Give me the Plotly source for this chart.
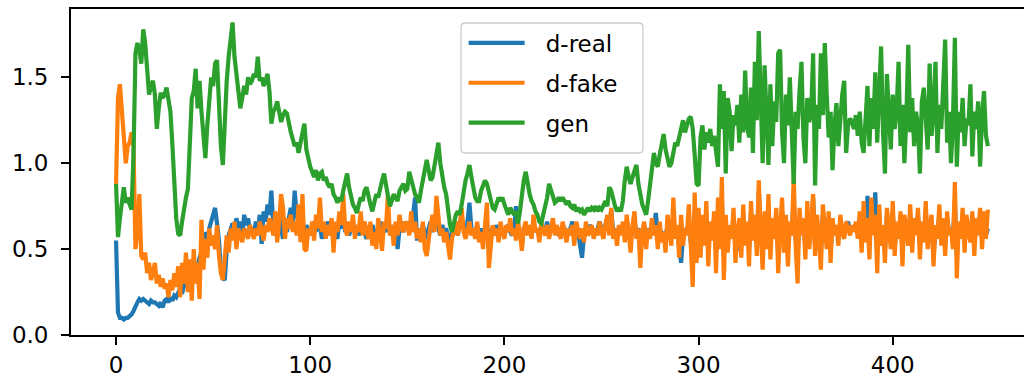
import plotly.graph_objects as go

# Discriminator / generator losses per epoch
d_real = [
    0.55, 0.13, 0.10, 0.10, 0.09, 0.10, 0.10, 0.11, 0.12, 0.14,
    0.17, 0.19, 0.21, 0.20, 0.21, 0.20, 0.19, 0.18, 0.20, 0.19,
    0.19, 0.18, 0.17, 0.19, 0.16, 0.20, 0.21, 0.19, 0.22, 0.20,
    0.23, 0.22, 0.25, 0.27, 0.24, 0.29, 0.31, 0.28, 0.33, 0.35,
    0.38, 0.36, 0.42, 0.45, 0.48, 0.52, 0.60, 0.55, 0.62, 0.66,
    0.70, 0.74, 0.65, 0.55, 0.38, 0.33, 0.32, 0.50, 0.58, 0.62,
    0.65, 0.60, 0.68, 0.62, 0.66, 0.58, 0.70, 0.64, 0.68, 0.60,
    0.62, 0.58, 0.66, 0.60, 0.70, 0.53, 0.72, 0.66, 0.76, 0.70,
    0.84, 0.62, 0.58, 0.65, 0.70, 0.62, 0.56, 0.64, 0.60, 0.68,
    0.74, 0.66, 0.84, 0.70, 0.66, 0.62, 0.66, 0.58, 0.64, 0.60,
    0.62, 0.58, 0.66, 0.60, 0.68, 0.64, 0.56, 0.62, 0.60, 0.66,
    0.62, 0.58, 0.64, 0.60, 0.56, 0.66, 0.62, 0.70, 0.60, 0.64,
    0.58, 0.62, 0.66, 0.60, 0.64, 0.58, 0.62, 0.66, 0.60, 0.56,
    0.62, 0.58, 0.64, 0.60, 0.56, 0.62, 0.66, 0.58, 0.62, 0.60,
    0.66, 0.62, 0.58, 0.64, 0.60, 0.50, 0.62, 0.66, 0.60, 0.64,
    0.62, 0.66, 0.60, 0.70, 0.80, 0.55, 0.62, 0.58, 0.64, 0.60,
    0.56, 0.62, 0.66, 0.60, 0.64, 0.68, 0.62, 0.58, 0.64, 0.60,
    0.62, 0.56, 0.52, 0.60, 0.64, 0.62, 0.58, 0.66, 0.68, 0.62,
    0.60, 0.66, 0.77, 0.62, 0.58, 0.60, 0.64, 0.56, 0.62, 0.58,
    0.60, 0.66, 0.50, 0.60, 0.62, 0.58, 0.64, 0.60, 0.62, 0.58,
    0.60, 0.62, 0.64, 0.60, 0.58, 0.62, 0.75, 0.62, 0.58, 0.56,
    0.60, 0.64, 0.60, 0.62, 0.58, 0.64, 0.62, 0.60, 0.58, 0.64,
    0.62, 0.60, 0.66, 0.58, 0.62, 0.64, 0.60, 0.62, 0.58, 0.60,
    0.64, 0.62, 0.58, 0.60, 0.62, 0.66, 0.58, 0.62, 0.60, 0.52,
    0.45, 0.58, 0.62, 0.60, 0.64, 0.62, 0.60, 0.58, 0.62, 0.66,
    0.62, 0.60, 0.64, 0.68, 0.62, 0.73, 0.60, 0.62, 0.58, 0.62,
    0.60, 0.64, 0.58, 0.66, 0.62, 0.56, 0.62, 0.66, 0.60, 0.62,
    0.56, 0.60, 0.64, 0.58, 0.62, 0.60, 0.64, 0.62, 0.71, 0.58,
    0.62, 0.58, 0.60, 0.56, 0.64, 0.60, 0.56, 0.66, 0.60, 0.62,
    0.52, 0.42, 0.58, 0.62, 0.60, 0.66, 0.54, 0.50, 0.70, 0.56,
    0.66, 0.52, 0.64, 0.56, 0.70, 0.50, 0.62, 0.58, 0.68, 0.48,
    0.70, 0.56, 0.76, 0.46, 0.66, 0.54, 0.62, 0.58, 0.68, 0.52,
    0.60, 0.49, 0.54, 0.70, 0.56, 0.64, 0.50, 0.72, 0.58, 0.66,
    0.54, 0.84, 0.60, 0.50, 0.68, 0.56, 0.74, 0.52, 0.64, 0.58,
    0.68, 0.48, 0.62, 0.72, 0.54, 0.66, 0.50, 0.64, 0.60, 0.78,
    0.56, 0.46, 0.68, 0.60, 0.64, 0.52, 0.70, 0.56, 0.62, 0.80,
    0.52, 0.66, 0.58, 0.48, 0.70, 0.60, 0.56, 0.68, 0.50, 0.64,
    0.60, 0.62, 0.56, 0.66, 0.62, 0.58, 0.64, 0.66, 0.60, 0.62,
    0.62, 0.64, 0.58, 0.68, 0.54, 0.72, 0.58, 0.81, 0.52, 0.74,
    0.60, 0.83, 0.48, 0.70, 0.56, 0.62, 0.50, 0.70, 0.60, 0.56,
    0.72, 0.52, 0.64, 0.58, 0.68, 0.50, 0.66, 0.62, 0.56, 0.70,
    0.54, 0.66, 0.60, 0.70, 0.52, 0.64, 0.58, 0.72, 0.54, 0.60,
    0.66, 0.45, 0.62, 0.58, 0.70, 0.56, 0.66, 0.52, 0.68, 0.60,
    0.62, 0.56, 0.78, 0.46, 0.64, 0.58, 0.70, 0.54, 0.66, 0.62,
    0.58, 0.68, 0.52, 0.66, 0.60, 0.70, 0.56, 0.68, 0.58, 0.62,
]

d_fake = [
    0.88, 1.38, 1.46, 1.32, 1.20, 1.00, 1.10, 1.12, 1.18, 1.10,
    0.50, 0.60, 0.82, 0.46, 0.44, 0.48, 0.36, 0.42, 0.32, 0.38,
    0.42, 0.30, 0.35, 0.28, 0.33, 0.27, 0.30, 0.22, 0.32, 0.26,
    0.36, 0.28, 0.40, 0.22, 0.42, 0.30, 0.48, 0.25, 0.44, 0.20,
    0.50, 0.30, 0.42, 0.21, 0.67, 0.38, 0.56, 0.45, 0.62, 0.52,
    0.58, 0.50, 0.64, 0.46, 0.36, 0.32, 0.45, 0.58, 0.48, 0.62,
    0.55, 0.66, 0.50, 0.62, 0.58, 0.54, 0.62, 0.60, 0.56, 0.64,
    0.60, 0.56, 0.62, 0.58, 0.66, 0.60, 0.55, 0.64, 0.60, 0.68,
    0.62, 0.58, 0.72, 0.54, 0.66, 0.82, 0.74, 0.56, 0.68, 0.62,
    0.70, 0.60, 0.66, 0.58, 0.76, 0.54, 0.82, 0.50, 0.49, 0.62,
    0.58, 0.66, 0.55, 0.70, 0.62, 0.80, 0.60, 0.66, 0.56, 0.64,
    0.58, 0.68, 0.48, 0.66, 0.60, 0.72, 0.64, 0.82, 0.62, 0.58,
    0.66, 0.60, 0.70, 0.56, 0.64, 0.60, 0.72, 0.58, 0.66, 0.62,
    0.56, 0.66, 0.52, 0.60, 0.50, 0.68, 0.58, 0.49, 0.66, 0.62,
    0.82, 0.58, 0.64, 0.52, 0.66, 0.58, 0.70, 0.62, 0.60, 0.66,
    0.64, 0.58, 0.72, 0.60, 0.66, 0.56, 0.62, 0.54, 0.66, 0.50,
    0.46, 0.58, 0.64, 0.70, 0.60, 0.81, 0.66, 0.58, 0.62, 0.54,
    0.60, 0.52, 0.44, 0.56, 0.62, 0.66, 0.58, 0.64, 0.74, 0.60,
    0.56, 0.62, 0.66, 0.58, 0.62, 0.56, 0.66, 0.54, 0.60, 0.50,
    0.62, 0.77, 0.39, 0.56, 0.64, 0.58, 0.62, 0.54, 0.66, 0.60,
    0.56, 0.64, 0.60, 0.68, 0.58, 0.62, 0.55, 0.66, 0.60, 0.49,
    0.62, 0.66, 0.58, 0.64, 0.56, 0.70, 0.60, 0.62, 0.54, 0.66,
    0.60, 0.58, 0.64, 0.56, 0.62, 0.68, 0.58, 0.64, 0.60, 0.56,
    0.66, 0.60, 0.54, 0.62, 0.58, 0.64, 0.52, 0.66, 0.60, 0.56,
    0.62, 0.54, 0.66, 0.58, 0.60, 0.64, 0.56, 0.62, 0.58, 0.66,
    0.60, 0.56, 0.64, 0.70, 0.58, 0.74, 0.56, 0.62, 0.52, 0.64,
    0.58, 0.66, 0.54, 0.70, 0.60, 0.48, 0.64, 0.72, 0.56, 0.62,
    0.39, 0.60, 0.66, 0.50, 0.62, 0.56, 0.68, 0.58, 0.64, 0.50,
    0.66, 0.54, 0.60, 0.48, 0.70, 0.58, 0.52, 0.80, 0.56, 0.64,
    0.45, 0.70, 0.52, 0.62, 0.58, 0.76, 0.48, 0.28, 0.83, 0.42,
    0.74, 0.45, 0.70, 0.52, 0.78, 0.40, 0.66, 0.55, 0.72, 0.36,
    0.80, 0.50, 0.92, 0.32, 0.70, 0.48, 0.64, 0.56, 0.74, 0.42,
    0.60, 0.68, 0.45, 0.76, 0.52, 0.66, 0.40, 0.78, 0.55, 0.70,
    0.46, 0.90, 0.60, 0.38, 0.72, 0.50, 0.82, 0.44, 0.68, 0.56,
    0.74, 0.36, 0.62, 0.80, 0.48, 0.70, 0.40, 0.66, 0.58, 0.92,
    0.52, 0.30, 0.74, 0.58, 0.68, 0.44, 0.78, 0.50, 0.64, 0.82,
    0.46, 0.70, 0.56, 0.38, 0.76, 0.60, 0.50, 0.72, 0.42, 0.68,
    0.58, 0.64, 0.52, 0.70, 0.60, 0.56, 0.66, 0.62, 0.58, 0.64,
    0.60, 0.66, 0.56, 0.72, 0.48, 0.78, 0.54, 0.68, 0.44, 0.80,
    0.58, 0.70, 0.36, 0.76, 0.52, 0.64, 0.42, 0.74, 0.60, 0.50,
    0.78, 0.46, 0.66, 0.56, 0.72, 0.40, 0.70, 0.60, 0.52, 0.76,
    0.48, 0.68, 0.58, 0.74, 0.44, 0.66, 0.54, 0.78, 0.50, 0.62,
    0.70, 0.40, 0.64, 0.56, 0.76, 0.52, 0.68, 0.46, 0.72, 0.58,
    0.62, 0.50, 0.89, 0.33, 0.66, 0.56, 0.74, 0.48, 0.70, 0.60,
    0.54, 0.72, 0.46, 0.68, 0.58, 0.74, 0.50, 0.72, 0.56, 0.73,
]

gen = [
    0.88, 0.57, 0.68, 0.78, 0.86, 0.77, 0.80, 0.76, 0.73, 1.05,
    1.64, 1.70, 1.66, 1.58, 1.78, 1.70, 1.52, 1.40, 1.45, 1.48,
    1.40, 1.20, 1.32, 1.41, 1.38, 1.40, 1.44, 1.38, 1.30, 1.11,
    0.90, 0.68, 0.59, 0.58, 0.66, 0.74, 0.80, 0.85, 1.10, 1.38,
    1.42, 1.55, 1.32, 1.48, 1.30, 1.15, 1.03, 1.22, 1.40, 1.50,
    1.45, 1.58, 1.60, 1.30, 1.10, 0.99, 1.30, 1.48, 1.62, 1.70,
    1.82, 1.62, 1.50, 1.40, 1.32, 1.38, 1.45, 1.40, 1.50, 1.46,
    1.48, 1.52, 1.50, 1.62, 1.48, 1.50, 1.45, 1.48, 1.52, 1.42,
    1.23, 1.30, 1.32, 1.36, 1.30, 1.24, 1.28, 1.30, 1.29, 1.22,
    1.18, 1.14, 1.10, 1.12, 1.06, 1.12, 1.18, 1.23, 1.08, 1.02,
    0.98, 0.95, 0.92, 0.96, 0.90, 0.94, 0.95, 0.90, 0.92, 0.88,
    0.86, 0.88, 0.82, 0.80, 0.77, 0.80, 0.78, 0.84, 0.90, 0.94,
    0.86, 0.80, 0.76, 0.74, 0.71, 0.76, 0.80, 0.78, 0.84, 0.86,
    0.80, 0.76, 0.72, 0.78, 0.82, 0.80, 0.86, 0.90, 0.94, 0.88,
    0.80, 0.75, 0.78, 0.82, 0.80, 0.78, 0.84, 0.86, 0.88, 0.84,
    0.85, 0.95, 0.90, 0.86, 0.82, 0.80, 0.77, 0.84, 0.92, 0.96,
    1.02, 0.94, 0.90, 0.92, 0.98, 1.04, 1.12, 1.00, 0.92, 0.86,
    0.82, 0.70, 0.64, 0.60, 0.66, 0.70, 0.72, 0.70, 0.76, 0.84,
    0.90, 0.94, 0.99, 0.92, 0.86, 0.80, 0.78, 0.78, 0.84, 0.88,
    0.90, 0.88, 0.84, 0.78, 0.74, 0.73, 0.76, 0.80, 0.78, 0.80,
    0.76, 0.72, 0.70, 0.74, 0.72, 0.70, 0.72, 0.65, 0.72, 0.82,
    0.90, 0.95, 0.88, 0.82, 0.78, 0.76, 0.72, 0.70, 0.66, 0.65,
    0.70, 0.75, 0.80, 0.88, 0.84, 0.80, 0.77, 0.78, 0.80, 0.78,
    0.80, 0.78, 0.76, 0.78, 0.75, 0.74, 0.76, 0.72, 0.74, 0.72,
    0.73, 0.70, 0.72, 0.74, 0.72, 0.74, 0.73, 0.75, 0.72, 0.74,
    0.73, 0.76, 0.78, 0.75, 0.86, 0.84, 0.78, 0.75, 0.72, 0.74,
    0.72, 0.78, 0.90, 0.98, 0.92, 0.88, 0.92, 0.95, 0.99, 0.88,
    0.80, 0.76, 0.73, 0.70, 0.78, 0.88, 0.96, 1.06, 1.00, 0.98,
    1.05, 1.10, 1.17, 1.08, 1.02, 0.98, 1.00, 1.06, 1.12, 1.10,
    1.15, 1.20, 1.25, 1.18, 1.22, 1.26, 1.27, 1.20, 1.05, 0.88,
    0.87, 1.15, 1.22, 1.08, 1.18, 1.12, 1.20, 1.10, 1.16, 1.05,
    0.98, 1.46, 1.20, 1.42, 0.94, 1.38, 1.30, 1.07, 1.28, 1.22,
    1.34, 1.12, 1.40, 1.18, 1.54, 1.22, 1.15, 1.44, 1.06, 1.59,
    1.25, 1.77, 1.30, 1.00, 1.57, 1.20, 0.99, 1.46, 1.10, 1.36,
    1.24, 1.64, 1.66, 1.18, 1.00, 1.40, 1.22, 1.50, 1.12, 0.88,
    1.30, 1.20, 1.42, 1.59, 1.15, 1.00, 1.38, 1.24, 1.30, 1.64,
    0.87, 1.34, 1.20, 1.64, 1.28, 1.70, 1.40, 1.15, 1.30, 0.96,
    1.22, 1.35, 1.10, 1.28, 1.40, 1.48, 1.06, 1.22, 1.26, 1.24,
    1.20, 1.28, 1.16, 1.30, 1.12, 1.06, 1.32, 1.45, 1.10, 1.38,
    1.20, 1.53, 1.12, 1.36, 1.68, 1.18, 0.94, 1.52, 1.26, 1.08,
    1.40, 1.20, 1.30, 1.59, 1.10, 1.34, 1.00, 1.26, 1.69, 1.18,
    1.38, 1.10, 1.30, 1.22, 0.94, 1.36, 1.44, 1.20, 1.08, 1.58,
    1.16, 1.30, 1.59, 1.06, 1.34, 1.20, 1.44, 1.72, 1.12, 1.30,
    1.00, 1.24, 1.73, 0.98, 1.30, 1.18, 1.38, 1.10, 1.26, 1.22,
    1.46, 1.04, 1.30, 1.20, 1.36, 0.98, 1.28, 1.42, 1.16, 1.10,
]

series_names = ["d-real", "d-fake", "gen"]
series_colors = ["#1f77b4", "#ff7f0e", "#2ca02c"]
x_ticks = [0, 100, 200, 300, 400]
y_ticks = [0.0, 0.5, 1.0, 1.5]

epochs = list(range(len(d_real)))

# gap between the legend handle and its label
label_gap = "\u2002\u2009"

fig = go.Figure()
for name, values, color in zip(series_names, [d_real, d_fake, gen], series_colors):
    fig.add_trace(go.Scatter(
        x=epochs, y=values, name=label_gap + name, mode="lines",
        legendgroup=name,
        line=dict(color=color, width=4.2),
    ))

font_family = "DejaVu Sans"

# Legend frame with rounded corners, drawn above the lines
lx0, lx1, ly0, ly1 = 0.4092, 0.6002, 0.5583, 0.9571
rx, ry = 0.0045, 0.013
frame = (
    f"M {lx0 + rx},{ly1} L {lx1 - rx},{ly1} Q {lx1},{ly1} {lx1},{ly1 - ry} "
    f"L {lx1},{ly0 + ry} Q {lx1},{ly0} {lx1 - rx},{ly0} "
    f"L {lx0 + rx},{ly0} Q {lx0},{ly0} {lx0},{ly0 + ry} "
    f"L {lx0},{ly1 - ry} Q {lx0},{ly1} {lx0 + rx},{ly1} Z"
)

fig.update_layout(
    width=1024, height=379,
    margin=dict(l=71, r=0, t=9, b=44, pad=0),
    paper_bgcolor="white", plot_bgcolor="white",
    font=dict(family=font_family, size=23, color="#000000"),
    showlegend=True,
    legend=dict(
        x=0.412, y=0.962, xanchor="left", yanchor="top",
        bgcolor="rgba(0,0,0,0)", borderwidth=0,
        font=dict(family=font_family, size=23, color="#000000"),
        traceorder="grouped", tracegroupgap=7,
        itemwidth=56,
    ),
    shapes=[dict(
        type="path", xref="paper", yref="paper", path=frame,
        fillcolor="rgba(255,255,255,0.8)",
        line=dict(color="#cccccc", width=1.3), layer="above",
    )],
    xaxis=dict(
        range=[-23.2, 467.6], tickvals=x_ticks,
        showgrid=False, zeroline=False,
        showline=True, linecolor="black", linewidth=1.8, mirror=True,
        ticks="outside", ticklen=8, tickwidth=1.8, tickcolor="black",
        ticklabelstandoff=0,
        tickfont=dict(family=font_family, size=23, color="#000000"),
    ),
    yaxis=dict(
        range=[0.0, 1.898], tickvals=y_ticks, tickformat=".1f",
        showgrid=False, zeroline=False,
        showline=True, linecolor="black", linewidth=1.8, mirror=False,
        ticks="outside", ticklen=8, tickwidth=1.8, tickcolor="black",
        ticklabelstandoff=8,
        tickfont=dict(family=font_family, size=23, color="#000000"),
    ),
)

fig.write_html("out.html")
